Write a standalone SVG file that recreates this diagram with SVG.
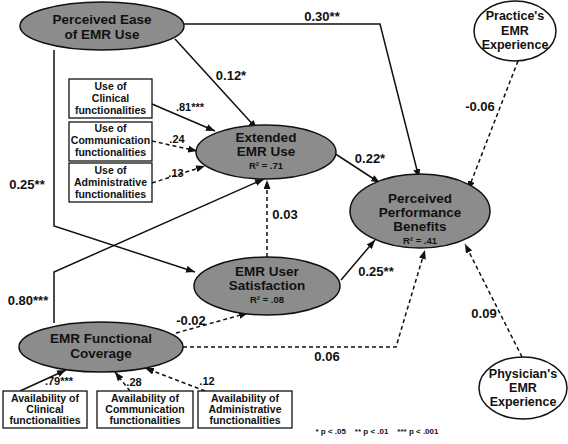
<svg xmlns="http://www.w3.org/2000/svg" width="568" height="444" viewBox="0 0 568 444">
<style>
text{font-family:"Liberation Sans",Arial,sans-serif;font-weight:bold;fill:#111;text-anchor:middle}
.big{font-size:13.5px}
.box{font-size:10.5px}
.bbox{font-size:10.5px}
.r2{font-size:9.5px}
.lbl{font-size:13px}
.sm{font-size:11px}
.g{fill:#8c8c8c;stroke:#111;stroke-width:1.5}
.w{fill:#fff;stroke:#111;stroke-width:1.5}
.rect{fill:#fff;stroke:#111;stroke-width:1.3}
.s{fill:none;stroke:#111;stroke-width:1.5;marker-end:url(#ah)}
.d{fill:none;stroke:#111;stroke-width:1.5;stroke-dasharray:4,3;marker-end:url(#ah)}
</style>
<defs>
<marker id="ah" markerUnits="userSpaceOnUse" markerWidth="9" markerHeight="7" refX="9" refY="3.5" orient="auto">
<path d="M0,0 L9,3.5 L0,7 z" fill="#111"/>
</marker>
</defs>
<rect width="568" height="444" fill="#fff"/>

<g id="connectors">
<path class="s" d="M183,24 L380,24 L419,178"/>
<path class="s" d="M175,39 L257,129"/>
<path class="s" d="M54,50 L54,226 L195,272"/>
<path class="s" d="M54,323 L54,272 L264,179"/>
<path class="s" d="M152,104 L215,131"/>
<path class="d" d="M152,141 L197,151"/>
<path class="d" d="M152,183 L205,166"/>
<path class="s" d="M334,153 L380,183"/>
<path class="s" d="M341,280 L375,240"/>
<path class="d" d="M267,257 L267,180"/>
<path class="d" d="M183,347 L396,347 L425,250"/>
<path class="d" d="M176,333 L248,313"/>
<path class="d" d="M518,61 L468,190"/>
<path class="d" d="M522,357 L465,244"/>
<path class="s" d="M20,391 L66,370"/>
<path class="d" d="M130,391 L115,372"/>
<path class="d" d="M205,391 L145,368"/>
</g>

<g id="labels">
<text class="lbl" x="322" y="21">0.30**</text>
<text class="lbl" x="231" y="80">0.12*</text>
<text class="lbl" x="27" y="189">0.25**</text>
<text class="lbl" x="28" y="305">0.80***</text>
<text class="sm" x="190" y="111">.81***</text>
<text class="sm" x="177" y="143">.24</text>
<text class="sm" x="176" y="177">.13</text>
<text class="lbl" x="370" y="163">0.22*</text>
<text class="lbl" x="376" y="276">0.25**</text>
<text class="lbl" x="285" y="219">0.03</text>
<text class="lbl" x="191" y="325">-0.02</text>
<text class="lbl" x="327" y="361">0.06</text>
<text class="lbl" x="480" y="111">-0.06</text>
<text class="lbl" x="484" y="318">0.09</text>
<text class="sm" x="59" y="385">.79***</text>
<text class="sm" x="134" y="386">.28</text>
<text class="sm" x="207" y="385">.12</text>
<text x="377" y="434" style="font-size:8px" xml:space="preserve">* p &lt; .05    ** p &lt; .01    *** p &lt; .001</text>
</g>

<g id="ease">
<ellipse class="g" cx="102" cy="26" rx="82" ry="24"/>
<text class="big" x="102" y="24">Perceived Ease</text>
<text class="big" x="102" y="39">of EMR Use</text>
</g>

<g id="extended">
<ellipse class="g" cx="266" cy="152" rx="70" ry="27"/>
<text class="big" x="266" y="142">Extended</text>
<text class="big" x="266" y="156">EMR Use</text>
<text class="r2" x="266" y="169">R² = .71</text>
</g>

<g id="performance">
<ellipse class="g" cx="420" cy="211" rx="70" ry="37"/>
<text class="big" x="420" y="203">Perceived</text>
<text class="big" x="420" y="217">Performance</text>
<text class="big" x="420" y="231">Benefits</text>
<text class="r2" x="420" y="244">R² = .41</text>
</g>

<g id="satisfaction">
<ellipse class="g" cx="267" cy="286" rx="73" ry="29"/>
<text class="big" x="267" y="276">EMR User</text>
<text class="big" x="267" y="290">Satisfaction</text>
<text class="r2" x="267" y="303">R² = .08</text>
</g>

<g id="coverage">
<ellipse class="g" cx="101" cy="347" rx="82" ry="25"/>
<text class="big" x="101" y="343">EMR Functional</text>
<text class="big" x="101" y="358">Coverage</text>
</g>

<g id="practice">
<ellipse class="w" cx="515" cy="31" rx="41" ry="30"/>
<text class="big" x="515" y="20" style="font-size:12.5px">Practice's</text>
<text class="big" x="515" y="35" style="font-size:12.5px">EMR</text>
<text class="big" x="515" y="49" style="font-size:12.5px">Experience</text>
</g>

<g id="physician">
<ellipse class="w" cx="523" cy="388" rx="44" ry="31"/>
<text class="big" x="523" y="378" style="font-size:12.5px">Physician's</text>
<text class="big" x="523" y="392" style="font-size:12.5px">EMR</text>
<text class="big" x="523" y="406" style="font-size:12.5px">Experience</text>
</g>

<g id="use-clinical">
<rect class="rect" x="69" y="79" width="83" height="39"/>
<text class="box" x="110.5" y="90">Use of</text>
<text class="box" x="110.5" y="102">Clinical</text>
<text class="box" x="110.5" y="114">functionalities</text>
</g>
<g id="use-communication">
<rect class="rect" x="69" y="122" width="83" height="39"/>
<text class="box" x="110.5" y="132">Use of</text>
<text class="box" x="110.5" y="144">Communication</text>
<text class="box" x="110.5" y="156">functionalities</text>
</g>
<g id="use-administrative">
<rect class="rect" x="69" y="163" width="83" height="39"/>
<text class="box" x="110.5" y="174">Use of</text>
<text class="box" x="110.5" y="186">Administrative</text>
<text class="box" x="110.5" y="198">functionalities</text>
</g>

<g id="avail-clinical">
<rect class="rect" x="3" y="391" width="84" height="37"/>
<text class="bbox" x="45" y="402">Availability of</text>
<text class="bbox" x="45" y="413">Clinical</text>
<text class="bbox" x="45" y="424">functionalities</text>
</g>
<g id="avail-communication">
<rect class="rect" x="97" y="391" width="96" height="37"/>
<text class="bbox" x="145" y="402">Availability of</text>
<text class="bbox" x="145" y="413">Communication</text>
<text class="bbox" x="145" y="424">functionalities</text>
</g>
<g id="avail-administrative">
<rect class="rect" x="198" y="391" width="94" height="37"/>
<text class="bbox" x="245" y="402">Availability of</text>
<text class="bbox" x="245" y="413">Administrative</text>
<text class="bbox" x="245" y="424">functionalities</text>
</g>
</svg>
